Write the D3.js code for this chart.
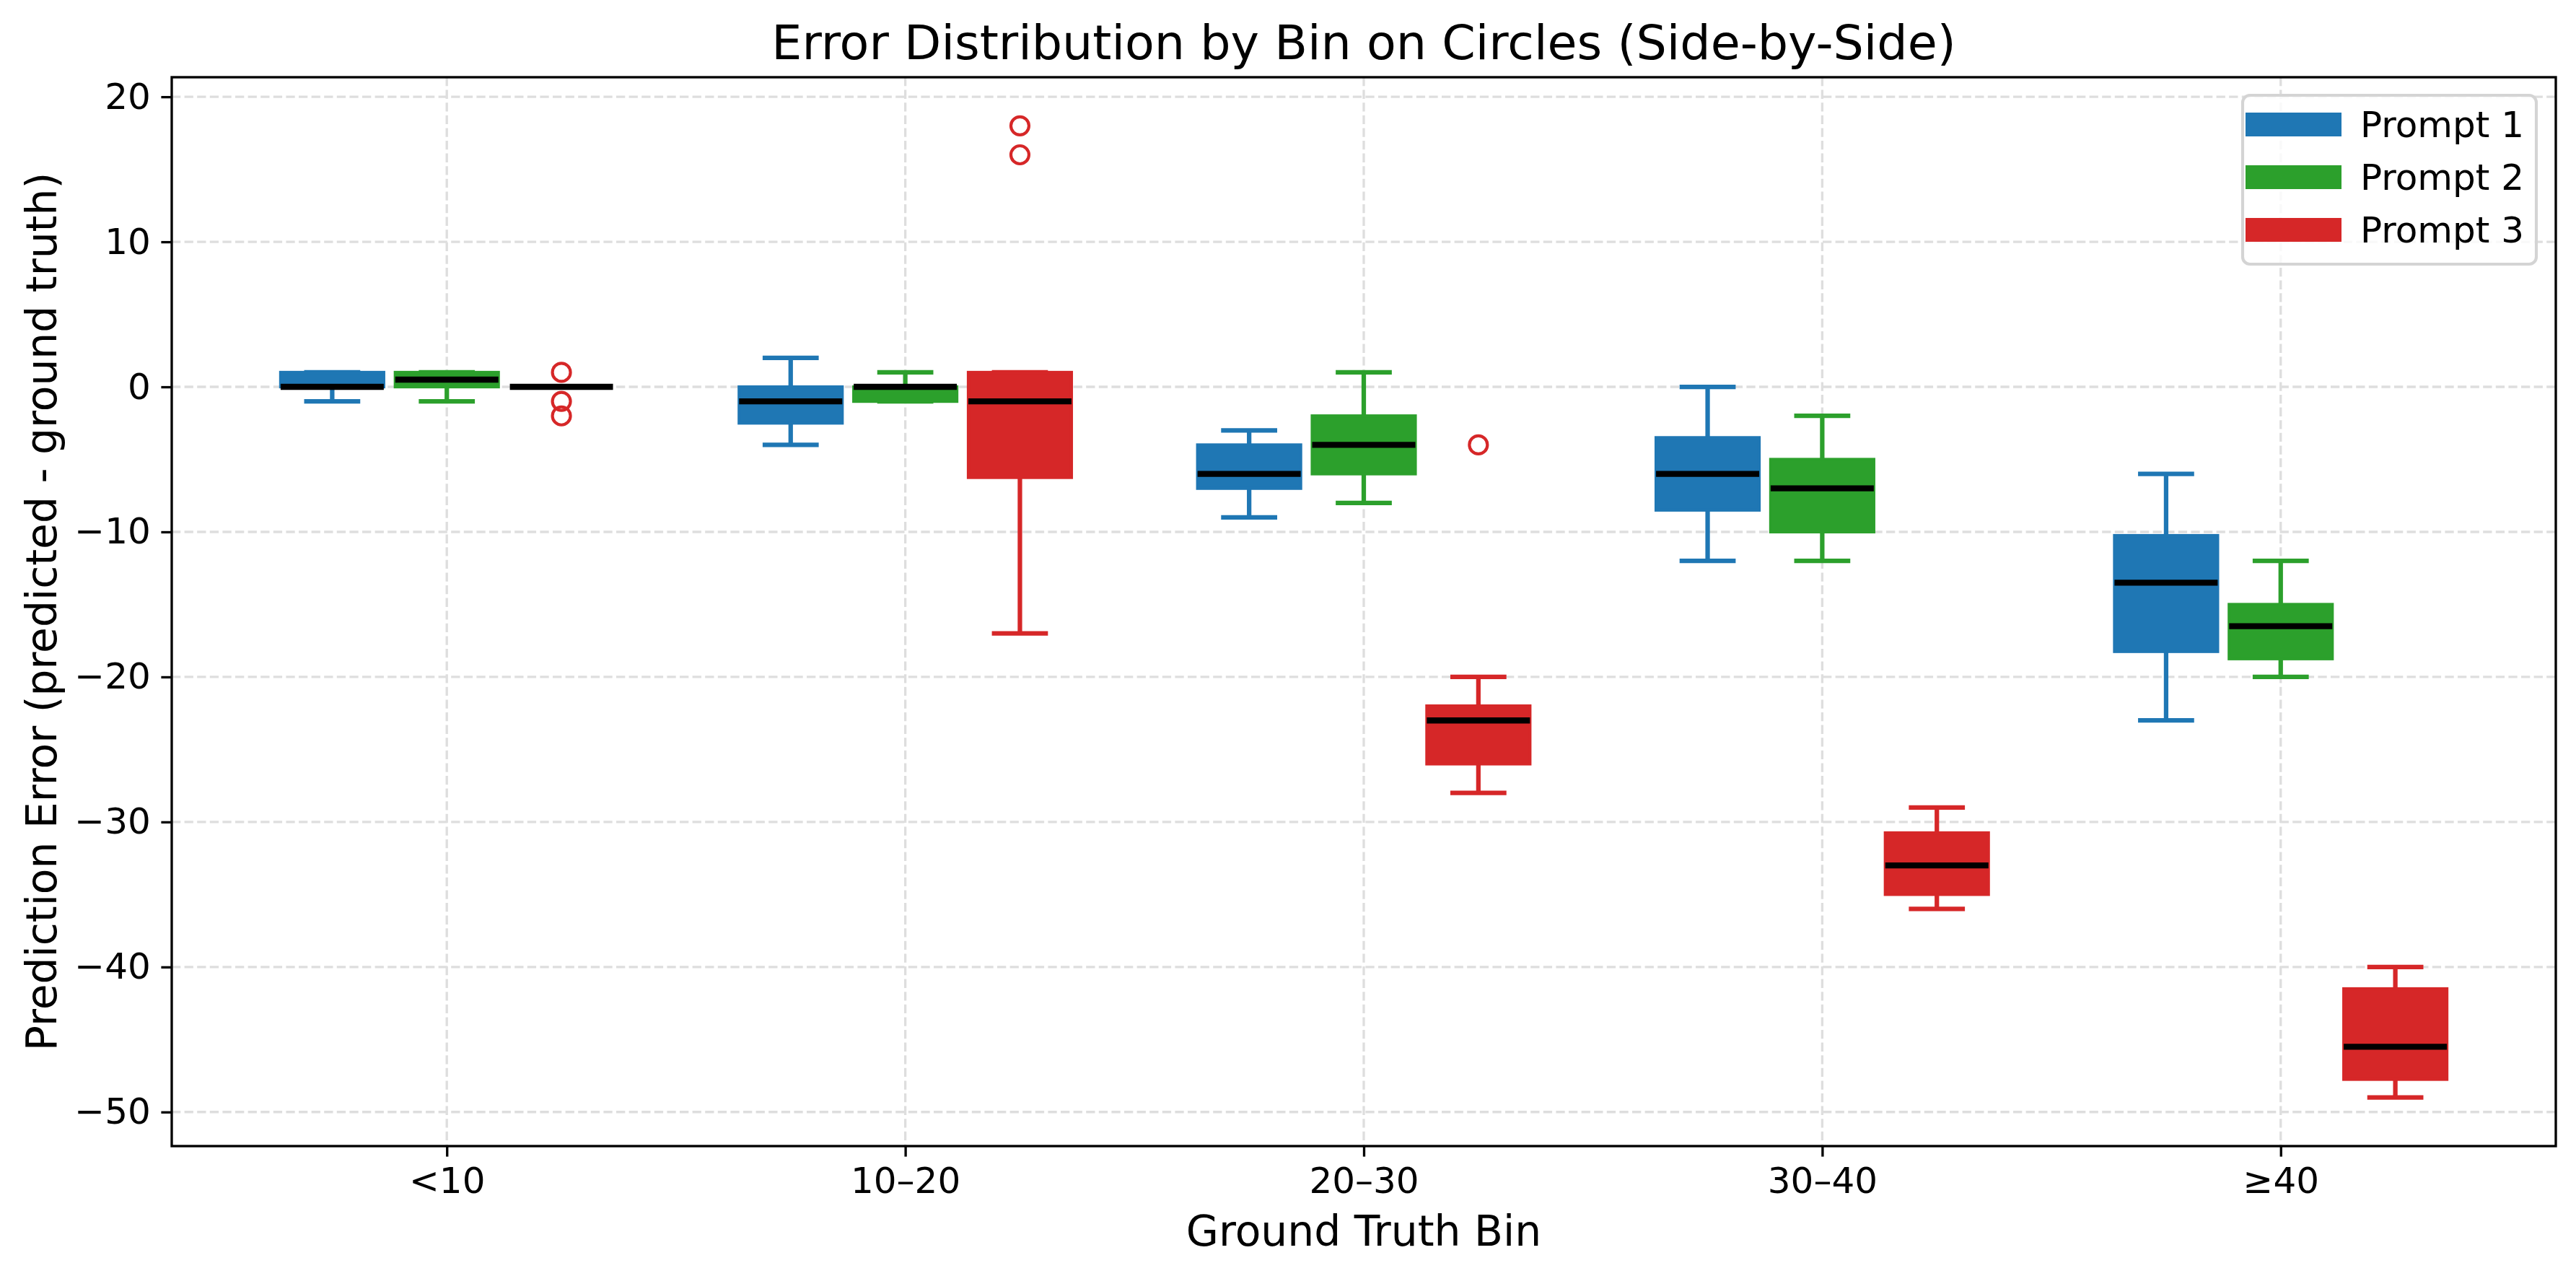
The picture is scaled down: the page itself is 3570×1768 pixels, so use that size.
<!DOCTYPE html>
<html>
<head>
<meta charset="utf-8">
<script src="https://cdn.jsdelivr.net/npm/d3@7"></script>
<style>
  body { margin: 0; background: #fff; }
  svg { display: block; }
  text { font-family: "DejaVu Sans", sans-serif; fill: #000; }
</style>
</head>
<body>
<svg id="chart" width="3570" height="1768"></svg>
<script>
// categories and series
var bins = ["<10", "10\u201320", "20\u201330", "30\u201340", "\u226540"];
var prompts = ["Prompt 1", "Prompt 2", "Prompt 3"];
var colors = ["#1f77b4", "#2ca02c", "#d62728"];

// five number summaries per bin: [low whisker, q1, median, q3, high whisker]
var prompt1Stats = [
    [-1, 0, 0, 1, 1],
    [-4, -2.5, -1, 0, 2],
    [-9, -7, -6, -4, -3],
    [-12, -8.5, -6, -3.5, 0],
    [-23, -18.25, -13.5, -10.25, -6]
];
var prompt2Stats = [
    [-1, 0, 0.5, 1, 1],
    [-1, -1, 0, 0, 1],
    [-8, -6, -4, -2, 1],
    [-12, -10, -7, -5, -2],
    [-20, -18.75, -16.5, -15, -12]
];
var prompt3Stats = [
    [0, 0, 0, 0, 0],
    [-17, -6.25, -1, 1, 1],
    [-28, -26, -23, -22, -20],
    [-36, -35, -33, -30.75, -29],
    [-49, -47.75, -45.5, -41.5, -40]
];

// outliers per bin
var prompt1Outliers = [[], [], [], [], []];
var prompt2Outliers = [[], [], [], [], []];
var prompt3Outliers = [[1, -1, -2], [18, 16], [-4], [], []];

var yTicks = [-50, -40, -30, -20, -10, 0, 10, 20];

var allStats = [prompt1Stats, prompt2Stats, prompt3Stats];
var allOutliers = [prompt1Outliers, prompt2Outliers, prompt3Outliers];

var svg = d3.select("#chart"),
    plotLeft = 238, plotRight = 3542, plotTop = 107, plotBottom = 1588;

var x = d3.scaleLinear().domain([-0.6, 4.6]).range([plotLeft, plotRight]);
var y = d3.scaleLinear().domain([-52.35, 21.35]).range([plotBottom, plotTop]);

var offsets = [-0.25, 0, 0.25];
var boxWidth = 0.225;
var capWidth = boxWidth / 2;

// grid
var grid = svg.append("g");
grid.selectAll(".hgrid")
    .data(yTicks)
    .enter().append("line")
    .attr("x1", plotLeft).attr("x2", plotRight)
    .attr("y1", function (d) { return y(d); })
    .attr("y2", function (d) { return y(d); })
    .attr("stroke", "#dedede")
    .attr("stroke-width", 3.33)
    .attr("stroke-dasharray", "12.3,5.3");
grid.selectAll(".vgrid")
    .data(bins)
    .enter().append("line")
    .attr("x1", function (d, i) { return x(i); })
    .attr("x2", function (d, i) { return x(i); })
    .attr("y1", plotTop).attr("y2", plotBottom)
    .attr("stroke", "#dedede")
    .attr("stroke-width", 3.33)
    .attr("stroke-dasharray", "12.3,5.3");

// boxes
var boxes = [];
allStats.forEach(function (series, p) {
    series.forEach(function (s, i) {
        boxes.push({ p: p, pos: i + offsets[p], s: s, out: allOutliers[p][i] });
    });
});

var bg = svg.selectAll(".box")
    .data(boxes)
    .enter().append("g")
    .attr("class", "box");

// whiskers
bg.append("line")
    .attr("x1", function (d) { return x(d.pos); })
    .attr("x2", function (d) { return x(d.pos); })
    .attr("y1", function (d) { return y(d.s[0]); })
    .attr("y2", function (d) { return y(d.s[1]); })
    .attr("stroke", function (d) { return colors[d.p]; })
    .attr("stroke-width", 6.25);
bg.append("line")
    .attr("x1", function (d) { return x(d.pos); })
    .attr("x2", function (d) { return x(d.pos); })
    .attr("y1", function (d) { return y(d.s[3]); })
    .attr("y2", function (d) { return y(d.s[4]); })
    .attr("stroke", function (d) { return colors[d.p]; })
    .attr("stroke-width", 6.25);

// caps
[0, 4].forEach(function (k) {
    bg.append("line")
        .attr("x1", function (d) { return x(d.pos - capWidth / 2); })
        .attr("x2", function (d) { return x(d.pos + capWidth / 2); })
        .attr("y1", function (d) { return y(d.s[k]); })
        .attr("y2", function (d) { return y(d.s[k]); })
        .attr("stroke", function (d) { return colors[d.p]; })
        .attr("stroke-width", 6.25)
        .attr("stroke-linecap", "square");
});

bg.append("rect")
    .attr("x", function (d) { return x(d.pos - boxWidth / 2); })
    .attr("width", function (d) { return x(d.pos + boxWidth / 2) - x(d.pos - boxWidth / 2); })
    .attr("y", function (d) { return y(d.s[3]); })
    .attr("height", function (d) { return y(d.s[1]) - y(d.s[3]); })
    .attr("fill", function (d) { return colors[d.p]; })
    .attr("stroke", function (d) { return colors[d.p]; })
    .attr("stroke-width", 4.17);

// medians
bg.append("line")
    .attr("x1", function (d) { return x(d.pos - boxWidth / 2); })
    .attr("x2", function (d) { return x(d.pos + boxWidth / 2); })
    .attr("y1", function (d) { return y(d.s[2]); })
    .attr("y2", function (d) { return y(d.s[2]); })
    .attr("stroke", "#000")
    .attr("stroke-width", 8.33);

// fliers
bg.selectAll(".flier")
    .data(function (d) { return d.out.map(function (v) { return { v: v, pos: d.pos, p: d.p }; }); })
    .enter().append("circle")
    .attr("cx", function (d) { return x(d.pos); })
    .attr("cy", function (d) { return y(d.v); })
    .attr("r", 12.5)
    .attr("fill", "none")
    .attr("stroke", function (d) { return colors[d.p]; })
    .attr("stroke-width", 4.17);

// axes
var xAxis = svg.append("g")
    .attr("transform", "translate(0," + plotBottom + ")")
    .call(d3.axisBottom(x)
        .tickValues(d3.range(bins.length))
        .tickFormat(function (d) { return bins[d]; })
        .tickSize(14.6)
        .tickPadding(14.6)
        .tickSizeOuter(0));

var yAxis = svg.append("g")
    .attr("transform", "translate(" + plotLeft + ",0)")
    .call(d3.axisLeft(y)
        .tickValues(yTicks)
        .tickSize(14.6)
        .tickPadding(14.6)
        .tickSizeOuter(0));

[xAxis, yAxis].forEach(function (a) {
    a.select(".domain").remove();
    a.selectAll(".tick line").attr("stroke", "#000").attr("stroke-width", 3.33);
    a.selectAll(".tick text")
        .style("font-family", "DejaVu Sans")
        .style("font-size", "50px")
        .attr("fill", "#000");
});

// frame
svg.append("rect")
    .attr("x", plotLeft).attr("y", plotTop)
    .attr("width", plotRight - plotLeft).attr("height", plotBottom - plotTop)
    .attr("fill", "none")
    .attr("stroke", "#000")
    .attr("stroke-width", 3.33);

// titles
svg.append("text")
    .attr("x", (plotLeft + plotRight) / 2)
    .attr("y", 82)
    .attr("text-anchor", "middle")
    .style("font-size", "66.7px")
    .text("Error Distribution by Bin on Circles (Side-by-Side)");

svg.append("text")
    .attr("x", (plotLeft + plotRight) / 2)
    .attr("y", 1726)
    .attr("text-anchor", "middle")
    .style("font-size", "58.3px")
    .text("Ground Truth Bin");

svg.append("text")
    .attr("transform", "translate(78," + (plotTop + plotBottom) / 2 + ") rotate(-90)")
    .attr("text-anchor", "middle")
    .style("font-size", "58.3px")
    .text("Prediction Error (predicted - ground truth)");

// legend
var legend = svg.append("g");
legend.append("rect")
    .attr("x", 3108).attr("y", 132)
    .attr("width", 407).attr("height", 234)
    .attr("rx", 10).attr("ry", 10)
    .attr("fill", "#fff")
    .attr("fill-opacity", 0.8)
    .attr("stroke", "#d4d4d4")
    .attr("stroke-width", 4.17);

var items = legend.selectAll(".item")
    .data(prompts)
    .enter().append("g")
    .attr("transform", function (d, i) { return "translate(0," + (i * 73) + ")"; });

items.append("rect")
    .attr("x", 3112).attr("y", 156)
    .attr("width", 133).attr("height", 33)
    .attr("fill", function (d, i) { return colors[i]; });

items.append("text")
    .attr("x", 3271).attr("y", 190)
    .style("font-size", "50px")
    .text(function (d) { return d; });
</script>
</body>
</html>
